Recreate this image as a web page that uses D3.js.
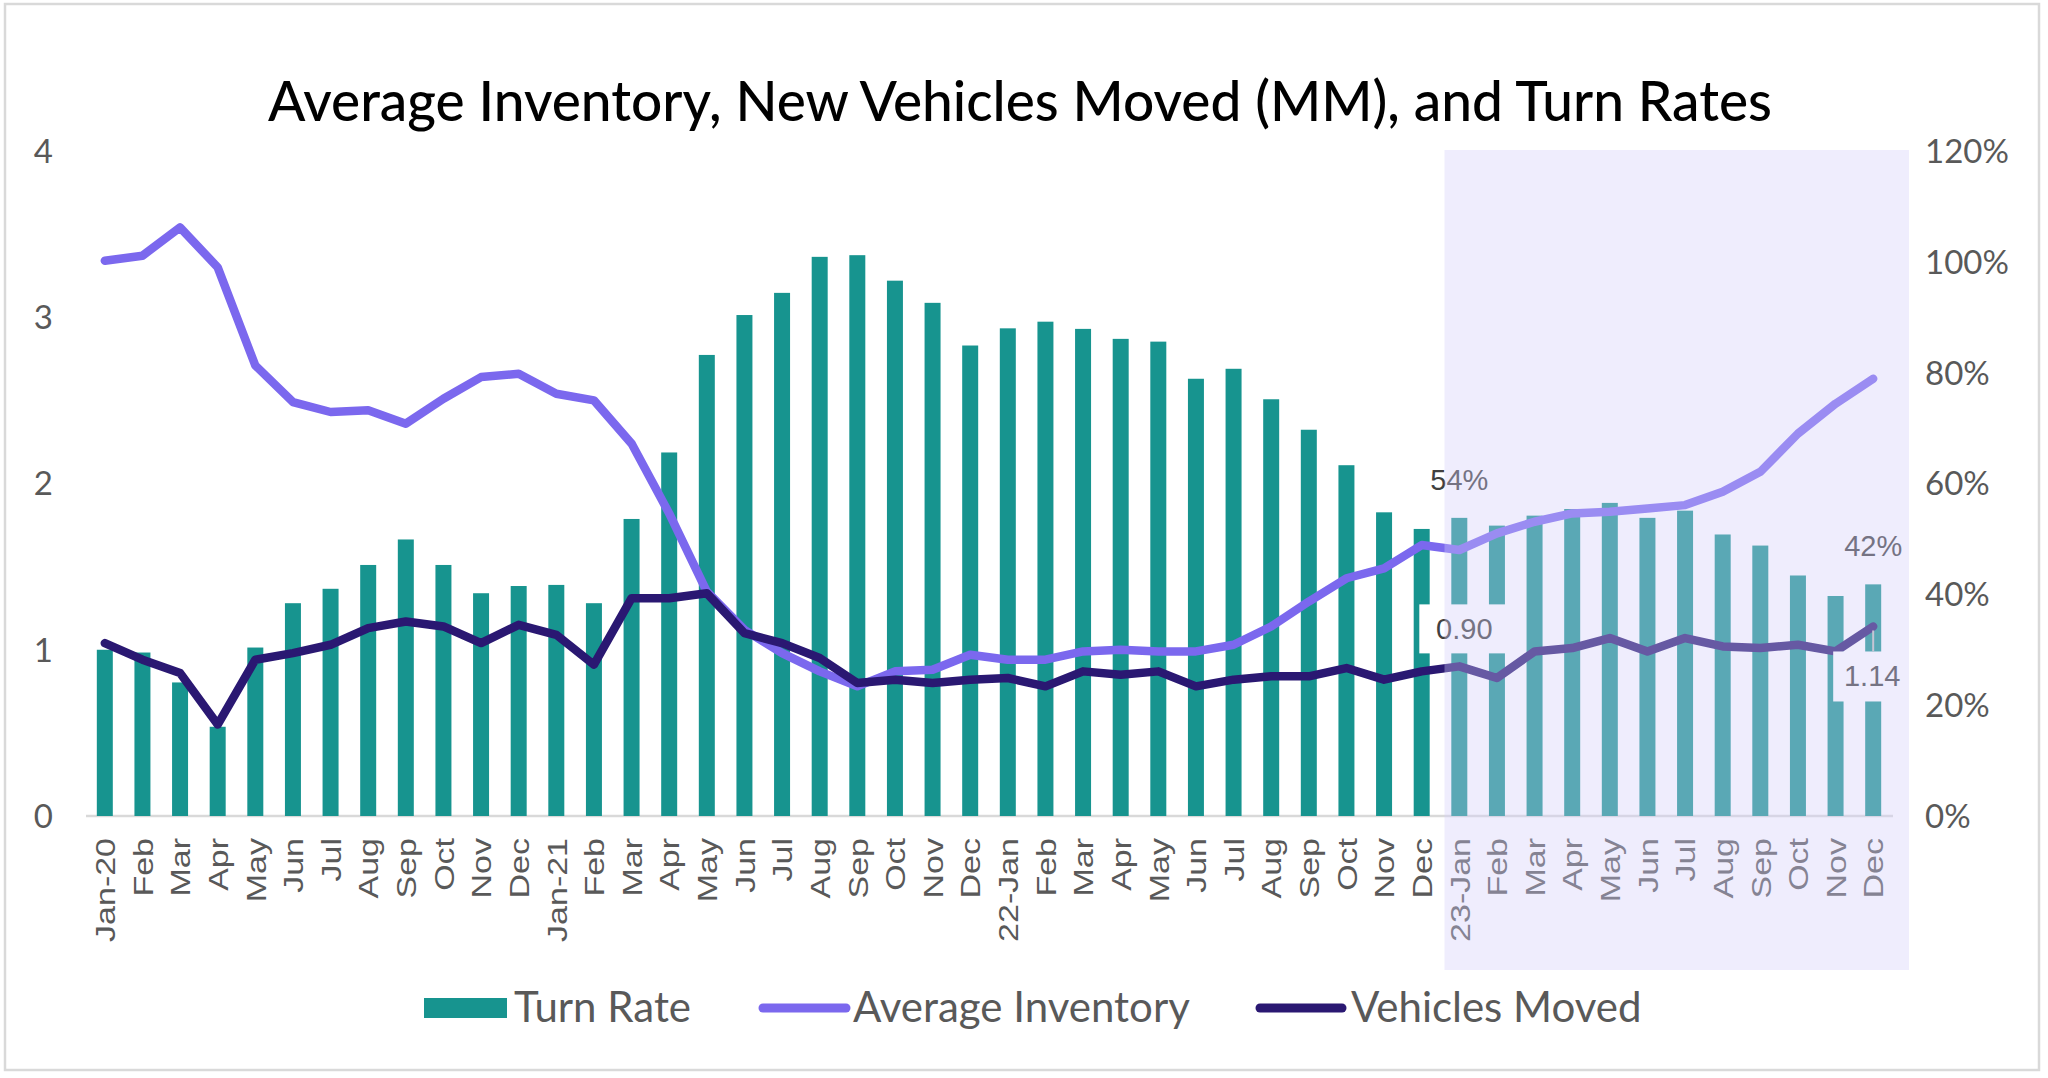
<!DOCTYPE html>
<html>
<head>
<meta charset="utf-8">
<script src="https://cdn.jsdelivr.net/npm/d3@7"></script>
<style>
  html, body { margin: 0; padding: 0; background: #ffffff; }
  svg { display: block; }
</style>
</head>
<body>
<svg id="chart" width="2048" height="1078"></svg>
<script>
// ---------------- DATA ----------------
const categories = [
  "Jan-20","Feb","Mar","Apr","May","Jun","Jul","Aug","Sep","Oct","Nov","Dec",
  "Jan-21","Feb","Mar","Apr","May","Jun","Jul","Aug","Sep","Oct","Nov","Dec",
  "22-Jan","Feb","Mar","Apr","May","Jun","Jul","Aug","Sep","Oct","Nov","Dec",
  "23-Jan","Feb","Mar","Apr","May","Jun","Jul","Aug","Sep","Oct","Nov","Dec"
];
const turnRate = [
  0.300,0.295,0.241,0.161,0.304,0.384,0.410,0.453,0.499,0.453,0.402,0.415,
  0.417,0.384,0.536,0.656,0.832,0.904,0.944,1.009,1.012,0.966,0.926,0.849,
  0.880,0.892,0.879,0.861,0.856,0.789,0.807,0.752,0.697,0.633,0.548,0.518,
  0.538,0.524,0.542,0.554,0.565,0.538,0.551,0.508,0.488,0.434,0.397,0.418
];
const averageInventory = [
  3.34,3.37,3.54,3.30,2.71,2.49,2.43,2.44,2.36,2.51,2.64,2.66,
  2.54,2.50,2.24,1.82,1.35,1.12,0.98,0.87,0.78,0.87,0.88,0.97,
  0.94,0.94,0.99,1.00,0.99,0.99,1.03,1.14,1.29,1.43,1.49,1.63,
  1.60,1.70,1.77,1.82,1.83,1.85,1.87,1.95,2.07,2.30,2.48,2.63
];
const vehiclesMoved = [
  1.04,0.94,0.86,0.55,0.94,0.98,1.03,1.13,1.17,1.14,1.04,1.15,
  1.09,0.91,1.31,1.31,1.34,1.10,1.04,0.95,0.80,0.82,0.80,0.82,
  0.83,0.78,0.87,0.85,0.87,0.78,0.82,0.84,0.84,0.89,0.82,0.87,
  0.90,0.83,0.99,1.01,1.07,0.99,1.07,1.02,1.01,1.03,0.99,1.14
];
const leftTicks = [0, 1, 2, 3, 4];
const rightTicks = [0, 0.2, 0.4, 0.6, 0.8, 1.0, 1.2];
const labelledPoints = [36, 47];     // indices carrying data labels
const forecastStart = 36;            // shaded period begins (23-Jan)
const titleText = "Average Inventory, New Vehicles Moved (MM), and Turn Rates";
const seriesNames = ["Turn Rate", "Average Inventory", "Vehicles Moved"];

// ---------------- STYLE ----------------
const C_BAR = "#17948f";
const C_INV = "#7b68ee";
const C_VEH = "#2a1872";
const C_TEXT = "#595959";
const C_GRID = "#d9d9d9";
const F_MAIN = "Lato, 'Noto Sans', sans-serif";
const F_TICK = "'Liberation Sans', Arial, sans-serif";

const svg = d3.select("#chart");
const idx = d3.range(categories.length);

const x = d3.scaleBand().domain(idx).range([86, 1892]).paddingInner(0.575).paddingOuter(0.2875);
const yL = d3.scaleLinear().domain([0, 4]).range([816, 151]);
const yR = d3.scaleLinear().domain([0, 1.2]).range([816, 151]);
const cx = i => x(i) + x.bandwidth() / 2;

// outer border
svg.append("rect").attr("x", 5).attr("y", 4).attr("width", 2034).attr("height", 1066)
  .attr("fill", "#fff").attr("stroke", C_GRID).attr("stroke-width", 2.5);

// title
svg.append("text").attr("x", 1020).attr("y", 121)
  .attr("text-anchor", "middle").attr("font-family", F_MAIN).attr("font-size", 55)
  .attr("font-weight", 500)
  .attr("fill", "#000").text(titleText);

// base axis line
svg.append("line").attr("x1", x.range()[0]).attr("x2", x.range()[1] + 1)
  .attr("y1", yL(0)).attr("y2", yL(0)).attr("stroke", C_GRID).attr("stroke-width", 2.5);

// bars
svg.append("g").selectAll("rect").data(idx).join("rect")
  .attr("x", i => x(i)).attr("width", x.bandwidth())
  .attr("y", i => yR(turnRate[i])).attr("height", i => yR(0) - yR(turnRate[i]))
  .attr("fill", C_BAR);

// lines
const lineGen = arr => d3.line().x(i => cx(i)).y(i => yL(arr[i]))(idx);
svg.append("path").attr("d", lineGen(averageInventory)).attr("fill", "none")
  .attr("stroke", C_INV).attr("stroke-width", 8.5).attr("stroke-linejoin", "round").attr("stroke-linecap", "round");
svg.append("path").attr("d", lineGen(vehiclesMoved)).attr("fill", "none")
  .attr("stroke", C_VEH).attr("stroke-width", 8.5).attr("stroke-linejoin", "round").attr("stroke-linecap", "round");

// data labels
const pct = d3.format(".0%");
const dec = d3.format(".2f");
labelledPoints.forEach(i => {
  svg.append("text").attr("x", cx(i)).attr("y", yR(turnRate[i]) - 28)
    .attr("text-anchor", "middle").attr("font-family", F_TICK).attr("font-size", 29)
    .attr("fill", "#404040").text(pct(turnRate[i]));
});
{
  const i = labelledPoints[0];
  const px = cx(i) + 5, py = yL(vehiclesMoved[i]);
  svg.append("rect").attr("x", px - 45).attr("y", py - 62).attr("width", 90).attr("height", 49).attr("fill", "#fff");
  svg.append("text").attr("x", px).attr("y", py - 27).attr("text-anchor", "middle")
    .attr("font-family", F_TICK).attr("font-size", 29).attr("fill", "#404040").text(dec(vehiclesMoved[i]));
}
{
  const i = labelledPoints[1];
  const px = cx(i), py = yL(vehiclesMoved[i]);
  svg.append("rect").attr("x", px - 40).attr("y", py + 25).attr("width", 80).attr("height", 50).attr("fill", "#fff");
  svg.append("line").attr("x1", px).attr("x2", px).attr("y1", py + 4).attr("y2", py + 25)
    .attr("stroke", "#bfbfbf").attr("stroke-width", 2);
  svg.append("text").attr("x", px - 1).attr("y", py + 60).attr("text-anchor", "middle")
    .attr("font-family", F_TICK).attr("font-size", 29).attr("fill", "#404040").text(dec(vehiclesMoved[i]));
}

// x tick labels (rotated)
svg.append("g").selectAll("text").data(idx).join("text")
  .attr("transform", i => `translate(${cx(i)},838) rotate(-90) scale(1,0.84)`)
  .attr("text-anchor", "end").attr("dy", "0.36em")
  .attr("font-family", F_TICK).attr("font-size", 34).attr("fill", C_TEXT)
  .text(i => categories[i]);

// left axis labels
svg.append("g").selectAll("text").data(leftTicks).join("text")
  .attr("x", 53).attr("y", d => yL(d)).attr("dy", "0.36em").attr("text-anchor", "end")
  .attr("font-family", F_MAIN).attr("font-size", 33).attr("fill", C_TEXT)
  .text(d => d);

// shaded forecast overlay
const ox0 = x(forecastStart) - x.step() * x.paddingInner() / 2 + 4;
const ox1 = x.range()[1] + 17;
svg.append("rect")
  .attr("x", ox0).attr("y", yL(4) - 1)
  .attr("width", ox1 - ox0).attr("height", 970 - (yL(4) - 1))
  .attr("fill", "rgb(211,205,249)").attr("fill-opacity", 0.36);

// right axis labels
svg.append("g").selectAll("text").data(rightTicks).join("text")
  .attr("x", 1925).attr("y", d => yR(d)).attr("dy", "0.36em").attr("text-anchor", "start")
  .attr("font-family", F_MAIN).attr("font-size", 33).attr("fill", C_TEXT)
  .text(d => pct(d));

// legend
const lg = svg.append("g");
lg.append("rect").attr("x", 424).attr("y", 998).attr("width", 83).attr("height", 20).attr("fill", C_BAR);
lg.append("text").attr("x", 514).attr("y", 1022).attr("font-family", F_MAIN).attr("font-size", 42)
  .attr("fill", C_TEXT).text(seriesNames[0]);
lg.append("line").attr("x1", 763).attr("x2", 846).attr("y1", 1008).attr("y2", 1008)
  .attr("stroke", C_INV).attr("stroke-width", 9).attr("stroke-linecap", "round");
lg.append("text").attr("x", 853).attr("y", 1022).attr("font-family", F_MAIN).attr("font-size", 42)
  .attr("fill", C_TEXT).text(seriesNames[1]);
lg.append("line").attr("x1", 1260).attr("x2", 1342).attr("y1", 1008).attr("y2", 1008)
  .attr("stroke", C_VEH).attr("stroke-width", 9).attr("stroke-linecap", "round");
lg.append("text").attr("x", 1351).attr("y", 1022).attr("font-family", F_MAIN).attr("font-size", 42)
  .attr("fill", C_TEXT).text(seriesNames[2]);
</script>
</body>
</html>
